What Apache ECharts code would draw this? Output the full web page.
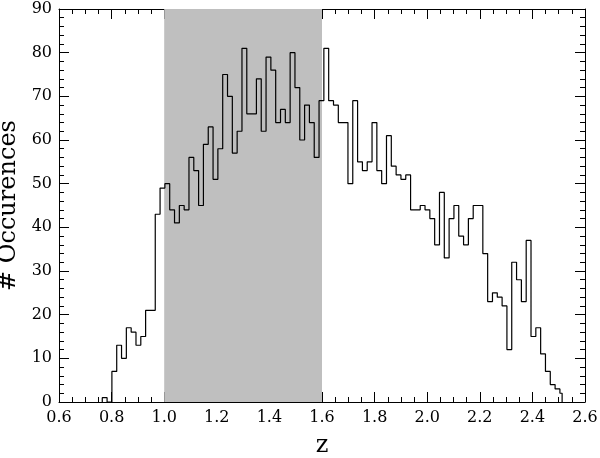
<!DOCTYPE html>
<html>
<head>
<meta charset="utf-8">
<script src="https://cdn.jsdelivr.net/npm/echarts@6/dist/echarts.min.js"></script>
<style>
	html, body { margin: 0; padding: 0; background: #fff; }
	#main { width: 600px; height: 458px; }
</style>
</head>
<body>
	<div id="main"></div>
<script>
	// histogram of z, counts per bin
	var binStart = 0.7645;
	var binWidth = 0.018317;
	var zEnd = 2.513;
	var counts = [
		1, 0, 7, 13, 10, 17, 16, 13, 15, 21,
		21, 43, 49, 50, 44, 41, 45, 44, 56, 53,
		45, 59, 63, 51, 58, 75, 70, 57, 62, 81,
		66, 66, 74, 62, 79, 76, 64, 67, 64, 80,
		72, 60, 68, 64, 56, 69, 81, 69, 68, 64,
		64, 50, 69, 55, 53, 55, 64, 53, 50, 61,
		54, 52, 51, 52, 44, 44, 45, 44, 42, 36,
		48, 33, 42, 45, 38, 36, 42, 45, 45, 34,
		23, 25, 24, 22, 12, 32, 28, 23, 37, 15,
		17, 11, 7, 4, 3, 2
	];
	var shadeRange = [1.0, 1.6];
	var xTicks = [0.6, 2.6, 0.2];
	var yTicks = [0, 90, 10];

	var pts = [[binStart, 0]];
	for (var i = 0; i < counts.length; i++) {
		pts.push([binStart + i * binWidth, counts[i]]);
	}
	pts.push([zEnd, 0]);

	var font = 'DejaVu Serif';
	function xAx(pos, labels) {
		return {
			type: 'value', position: pos,
			min: xTicks[0], max: xTicks[1], interval: xTicks[2],
			name: labels ? 'z' : '', nameLocation: 'middle', nameGap: 32,
			nameTextStyle: { fontFamily: font, fontSize: 24, color: '#000' },
			axisLine: { show: true, onZero: false, lineStyle: { color: '#000', width: 1 } },
			axisTick: { show: true, inside: true, length: 10, lineStyle: { color: '#000' } },
			minorTick: { show: true, splitNumber: 4, length: 5, lineStyle: { color: '#000' } },
			axisLabel: {
				show: labels, margin: 8, fontFamily: font, fontSize: 16, color: '#000',
				formatter: function (v) { return v.toFixed(1); }
			},
			splitLine: { show: false }
		};
	}
	function yAx(pos, labels) {
		return {
			type: 'value', position: pos,
			min: yTicks[0], max: yTicks[1], interval: yTicks[2],
			name: labels ? '# Occurences' : '', nameLocation: 'middle', nameGap: 34,
			nameTextStyle: { fontFamily: font, fontSize: 24, color: '#000' },
			axisLine: { show: true, onZero: false, lineStyle: { color: '#000', width: 1 } },
			axisTick: { show: true, inside: true, length: 10, lineStyle: { color: '#000' } },
			minorTick: { show: true, splitNumber: 5, length: 5, lineStyle: { color: '#000' } },
			axisLabel: { show: labels, margin: 7, fontFamily: font, fontSize: 16, color: '#000' },
			splitLine: { show: false }
		};
	}

	var chart = echarts.init(document.getElementById('main'));
	chart.setOption({
		animation: false,
		grid: { left: 59, right: 15, top: 9, bottom: 56, outerBoundsMode: 'none', containLabel: false },
		xAxis: [xAx('bottom', true), xAx('top', false)],
		yAxis: [yAx('left', true), yAx('right', false)],
		series: [{
			type: 'line',
			step: 'end',
			data: pts,
			symbol: 'none',
			lineStyle: { color: '#000', width: 1.2 },
			markArea: {
				silent: true,
				itemStyle: { color: '#bfbfbf', opacity: 1 },
				data: [[{ xAxis: shadeRange[0] }, { xAxis: shadeRange[1] }]]
			}
		}]
	});
</script>
</body>
</html>
